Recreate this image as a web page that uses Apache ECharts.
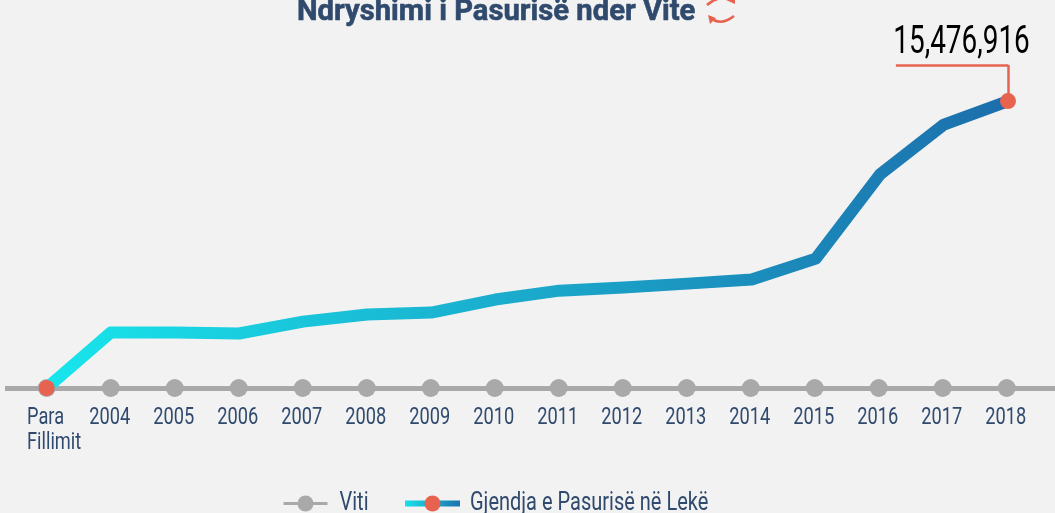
<!DOCTYPE html>
<html>
<head>
<meta charset="utf-8">
<style>
  html, body { margin: 0; padding: 0; background: #f2f2f2; overflow: hidden; }
  #chart { width: 1055px; height: 513px; }
</style>
<script src="https://cdn.jsdelivr.net/npm/echarts@6/dist/echarts.min.js"></script>
</head>
<body>
<div id="chart"></div>
<script>
const categories = ['Para\nFillimit', '2004', '2005', '2006', '2007', '2008', '2009', '2010', '2011', '2012', '2013', '2014', '2015', '2016', '2017', '2018'];
const wealth = [0, 2990000, 2990000, 2940000, 3580000, 3960000, 4070000, 4770000, 5250000, 5420000, 5630000, 5850000, 6980000, 11510000, 14210000, 15476916];
const yearLine = [0, 0, 0, 0, 0, 0, 0, 0, 0, 0, 0, 0, 0, 0, 0, 0];
const titleText = 'Ndryshimi i Pasurisë nder Vite';
const yearName = 'Viti';
const wealthName = 'Gjendja e Pasurisë në Lekë';

const navy = '#2f4a6d';
const orange = '#e8634f';
const grey = '#a9a9a9';
const font = 'Roboto, sans-serif';
const lastIndex = wealth.length - 1;
const calloutTop = 17430000;

// no condensed font is installed, so text gets squeezed after layout (font size -> x scale)
const squeeze = { 30: 0.974, 24: 0.76, 25: 0.8, 38: 0.735 };

const chart = echarts.init(document.getElementById('chart'));
chart.setOption({
  animation: false,
  backgroundColor: '#f2f2f2',
  title: {
    text: titleText,
    left: 297,
    top: -3,
    padding: 0,
    textStyle: { fontFamily: font, fontSize: 30, fontWeight: 'bold', color: navy, textBorderColor: navy, textBorderWidth: 0.6 },
  },
  legend: [
    {
      top: 491,
      left: 282,
      padding: 0,
      itemGap: 0,
      itemWidth: 44,
      itemHeight: 20,
      data: [{ name: yearName, lineStyle: { width: 3 } }],
      textStyle: { fontFamily: font, fontSize: 25, color: navy, padding: [0, 0, 0, 7] },
    },
    {
      top: 491,
      left: 402,
      padding: 0,
      itemGap: 0,
      itemWidth: 55,
      itemHeight: 20,
      data: [{ name: wealthName, lineStyle: { width: 6 } }],
      textStyle: { fontFamily: font, fontSize: 25, color: navy, padding: [0, 0, 0, 5] },
    },
  ],
  grid: { left: 5, right: 0, top: 45, bottom: 125 },
  xAxis: [
    {
      type: 'value',
      min: -0.652,
      max: 15.754,
      splitLine: { show: false },
      axisTick: { show: false },
      axisLine: { show: true, onZero: false, lineStyle: { color: grey, width: 5, cap: 'butt' } },
      axisLabel: {
        customValues: categories.map((c, i) => i),
        formatter: (v) => categories[v],
        fontFamily: font,
        fontSize: 24,
        lineHeight: 25,
        color: navy,
        margin: 17,
        verticalAlign: 'top',
      },
    },
    { type: 'value', min: -0.6507, max: 15.733, show: false },
  ],
  yAxis: { type: 'value', min: 0, max: 18500000, show: false },
  graphic: [
    { type: 'bezierCurve', shape: { x1: 710, y1: 17, x2: 734, y2: 16, cpx1: 720, cpy1: 27 }, style: { stroke: orange, lineWidth: 2.5, fill: 'none' } },
    { type: 'polygon', shape: { points: [[708, 15], [716, 18], [710, 24]] }, style: { fill: orange } },
    { type: 'bezierCurve', shape: { x1: 707, y1: 5, x2: 721, y2: -2, cpx1: 712, cpy1: 0 }, style: { stroke: orange, lineWidth: 2.5, fill: 'none' } },
    { type: 'polygon', shape: { points: [[726, 0], [735, 4], [735, -4]] }, style: { fill: orange } },
  ],
  series: [
    {
      name: yearName,
      type: 'line',
      z: 2,
      data: yearLine.map((v, i) => [i, v]),
      symbol: 'circle',
      symbolSize: 18,
      itemStyle: { color: grey },
      lineStyle: { color: grey, width: 3 },
    },
    {
      name: wealthName,
      type: 'line',
      xAxisIndex: 1,
      z: 3,
      data: wealth.map((v, i) => [i, v]),
      symbol: 'circle',
      symbolSize: (val, p) => (p.dataIndex === 0 || p.dataIndex === lastIndex ? 16 : 0),
      itemStyle: { color: orange },
      lineStyle: {
        width: 12,
        join: 'round',
        color: new echarts.graphic.LinearGradient(0, 0, 1, 0, [
          { offset: 0, color: '#18e6ec' },
          { offset: 1, color: '#1c6dab' },
        ]),
      },
      markLine: {
        silent: true,
        symbol: 'none',
        animation: false,
        z: 2,
        lineStyle: { color: orange, width: 2.5, type: 'solid' },
        label: { show: false },
        data: [
          [{ coord: [lastIndex, wealth[lastIndex]] }, { coord: [lastIndex, calloutTop] }],
          [{ coord: [lastIndex - 1.75, calloutTop] }, { coord: [lastIndex, calloutTop] }],
        ],
      },
      label: {
        show: true,
        formatter: (p) => (p.dataIndex === lastIndex ? p.value[1].toLocaleString('en-US') : ''),
        position: 'top',
        offset: [-46.5, -26],
        fontFamily: font,
        fontSize: 38,
        color: '#000',
      },
    },
  ],
});

const zr = chart.getZr();
const firstLabelLines = categories[0].split('\n');
zr.storage.getDisplayList(true, true).forEach((el) => {
  if (!el.style || el.style.text == null || !el.style.font) return;
  const size = parseInt(el.style.font.match(/(\d+)px/)[1], 10);
  if (!squeeze[size]) return;
  // first axis label sits left aligned and starts left of its point
  if (firstLabelLines.includes(el.style.text)) {
    el.style.textAlign = 'left';
    el.style.x -= 19.7;
  } else if (size === 24) {
    el.style.x -= 1;
  }
  el.scaleX = squeeze[size];
  el.originX = el.style.x;
  el.markRedraw();
});
zr.refresh();
</script>
</body>
</html>
